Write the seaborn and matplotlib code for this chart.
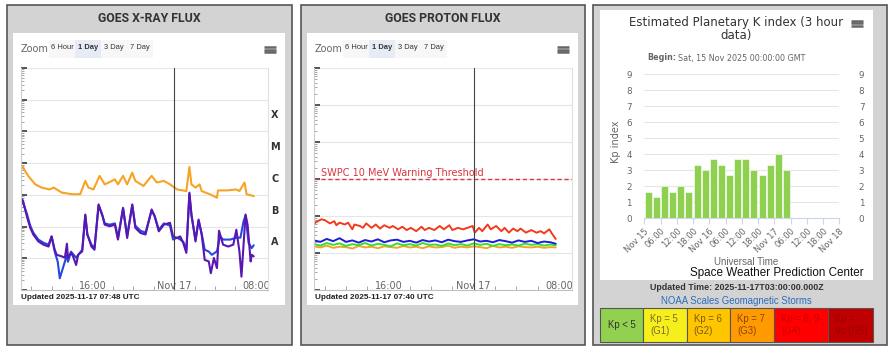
import numpy as np
import pandas as pd
import matplotlib
matplotlib.use("Agg")
import matplotlib.pyplot as plt
import seaborn as sns
from matplotlib.patches import Rectangle
from matplotlib.lines import Line2D
from matplotlib.ticker import LogLocator, MultipleLocator, NullFormatter

# ---- data -------------------------------------------------------------
# hours relative to 2025-11-17 00:00 UTC, log10 of flux
xray_long = [(-14.9, -5.09), (-14.3, -5.40), (-13.6, -5.67), (-13.0, -5.77), (-12.2, -5.83),
             (-11.8, -5.77), (-11.0, -5.93), (-10.0, -5.98), (-9.2, -5.98), (-8.7, -5.56),
             (-8.4, -5.77), (-7.9, -5.83), (-7.3, -5.40), (-6.8, -5.67), (-6.4, -5.61),
             (-5.8, -5.51), (-5.5, -5.67), (-5.0, -5.40), (-4.6, -5.67), (-4.1, -5.30),
             (-3.8, -5.56), (-3.0, -5.72), (-2.2, -5.40), (-1.7, -5.61), (-1.0, -5.56),
             (-0.4, -5.67), (0.3, -5.83), (1.2, -5.88), (1.5, -5.12), (1.7, -5.67),
             (2.1, -5.77), (2.5, -5.67), (2.7, -5.88), (3.5, -5.98), (4.2, -6.09),
             (4.3, -5.86), (5.2, -5.86), (6.1, -5.83), (6.4, -5.88), (6.9, -5.61),
             (7.1, -5.98), (7.8, -6.04)]

xray_short = [(-14.9, -6.14), (-14.8, -6.20), (-14.4, -6.71), (-14.1, -7.03), (-13.8, -7.25),
              (-13.3, -7.47), (-12.8, -7.57), (-12.3, -7.63), (-12.0, -7.31), (-11.7, -7.73),
              (-11.5, -7.89), (-11.0, -7.94), (-10.7, -7.98), (-10.5, -7.54), (-10.4, -7.98),
              (-10.1, -7.83), (-9.9, -7.94), (-9.6, -8.21), (-9.4, -7.89), (-9.0, -7.78),
              (-8.7, -6.62), (-8.5, -7.25), (-8.1, -7.63), (-7.8, -7.73), (-7.4, -6.30),
              (-7.0, -6.67), (-6.8, -6.94), (-6.3, -6.99), (-5.8, -6.94), (-5.5, -7.41),
              (-5.0, -6.41), (-4.6, -7.36), (-4.1, -6.30), (-3.8, -7.04), (-3.3, -7.20),
              (-2.8, -7.25), (-2.2, -6.46), (-1.9, -6.67), (-1.5, -7.15), (-1.0, -6.94),
              (-0.4, -6.88), (-0.1, -7.31), (0.3, -7.36), (0.6, -7.31), (0.9, -7.52),
              (1.2, -7.83), (1.5, -5.93), (1.7, -6.62), (2.1, -7.47), (2.4, -6.78),
              (2.7, -7.25), (3.0, -8.05), (3.4, -8.10), (3.6, -8.47), (3.9, -7.99),
              (4.2, -8.31), (4.4, -7.13), (4.8, -7.57), (5.3, -7.63), (5.8, -7.57),
              (6.1, -7.10), (6.4, -7.78), (6.6, -8.58), (7.0, -6.62), (7.2, -6.94),
              (7.5, -8.10), (7.6, -7.89), (7.8, -7.94)]

xray_blue = [(-14.9, -6.14), (-14.4, -6.62), (-14.1, -6.97), (-13.8, -7.19), (-13.3, -7.41),
             (-12.8, -7.51), (-12.3, -7.57), (-12.0, -7.31), (-11.7, -7.79), (-11.4, -8.11),
             (-11.2, -8.63), (-10.8, -8.21), (-10.5, -7.89), (-10.4, -8.11), (-10.1, -7.79),
             (-9.6, -7.98), (-9.0, -7.73), (-8.7, -6.65), (-8.5, -7.25), (-8.1, -7.57),
             (-7.8, -7.67), (-7.4, -6.33), (-7.0, -6.68), (-6.8, -6.90), (-6.3, -6.94),
             (-5.8, -6.90), (-5.5, -7.35), (-5.0, -6.43), (-4.6, -7.29), (-4.1, -6.33),
             (-3.8, -6.97), (-3.3, -7.13), (-2.8, -7.19), (-2.2, -6.49), (-1.9, -6.68),
             (-1.5, -7.10), (-1.0, -6.90), (-0.4, -6.97), (-0.1, -7.41), (0.3, -7.35),
             (0.6, -7.41), (0.9, -7.48), (1.2, -7.73), (1.5, -5.98), (1.7, -6.65),
             (2.1, -7.41), (2.4, -6.81), (2.7, -7.22), (3.0, -7.73), (3.4, -7.79),
             (3.7, -7.89), (4.2, -7.78), (4.5, -7.31), (4.8, -7.41), (5.5, -7.41),
             (6.1, -7.35), (6.5, -7.35), (6.8, -6.84), (7.0, -6.65), (7.3, -7.52),
             (7.6, -7.68), (7.8, -7.59)]

xray_classes = ["X", "M", "C", "B", "A"]
xray_class_flux = [3.2e-4, 3.2e-5, 3.2e-6, 3.2e-7, 3.2e-8]

proton_10mev = [(-15.0, -0.23), (-14.8, -0.16), (-14.3, -0.09), (-14.0, -0.11), (-13.5, -0.20),
                (-13.1, -0.14), (-12.9, -0.25), (-12.6, -0.18), (-12.1, -0.23), (-11.8, -0.18),
                (-11.4, -0.36), (-11.2, -0.23), (-10.7, -0.27), (-10.4, -0.32), (-10.1, -0.20),
                (-9.6, -0.32), (-9.2, -0.23), (-8.8, -0.34), (-8.4, -0.25), (-7.9, -0.32),
                (-7.6, -0.27), (-7.1, -0.36), (-6.7, -0.29), (-6.3, -0.38), (-5.9, -0.32),
                (-5.4, -0.41), (-4.9, -0.29), (-4.6, -0.38), (-4.2, -0.32), (-3.7, -0.38),
                (-3.2, -0.27), (-2.8, -0.36), (-2.3, -0.25), (-2.0, -0.38), (-1.5, -0.32),
                (-1.0, -0.36), (-0.6, -0.32), (-0.1, -0.27), (0.1, -0.45), (0.5, -0.32),
                (0.8, -0.41), (1.3, -0.23), (1.6, -0.36), (2.1, -0.27), (2.6, -0.41),
                (2.9, -0.32), (3.3, -0.45), (3.7, -0.34), (4.1, -0.41), (4.4, -0.34),
                (4.9, -0.45), (5.4, -0.38), (5.9, -0.45), (6.3, -0.41), (6.6, -0.47),
                (7.1, -0.36), (7.4, -0.50), (7.7, -0.62)]

proton_hours = [-15.0, -14.4, -13.8, -13.2, -12.6, -12.0, -11.4, -10.8, -10.2, -9.6,
                -9.0, -8.4, -7.8, -7.2, -6.6, -6.0, -5.4, -4.8, -4.2, -3.6,
                -3.0, -2.4, -1.8, -1.2, -0.6, 0.0, 0.6, 1.2, 1.8, 2.4,
                3.0, 3.6, 4.2, 4.8, 5.4, 6.0, 6.6, 7.2, 7.7]
proton_50mev = [-0.66, -0.70, -0.62, -0.68, -0.60, -0.70, -0.66, -0.72, -0.65, -0.69,
                -0.63, -0.71, -0.66, -0.64, -0.70, -0.67, -0.72, -0.65, -0.69, -0.66,
                -0.71, -0.64, -0.68, -0.70, -0.66, -0.63, -0.69, -0.67, -0.71, -0.65,
                -0.68, -0.72, -0.66, -0.70, -0.67, -0.73, -0.69, -0.71, -0.75]
proton_100mev = [-0.76, -0.80, -0.73, -0.78, -0.74, -0.81, -0.76, -0.79, -0.73, -0.80,
                 -0.75, -0.78, -0.82, -0.74, -0.79, -0.76, -0.80, -0.73, -0.78, -0.77,
                 -0.81, -0.74, -0.79, -0.76, -0.80, -0.74, -0.78, -0.75, -0.81, -0.76,
                 -0.79, -0.77, -0.80, -0.75, -0.78, -0.76, -0.80, -0.77, -0.79]
proton_500mev = [-0.82, -0.85, -0.80, -0.86, -0.83, -0.84, -0.88, -0.81, -0.85, -0.83,
                 -0.87, -0.82, -0.84, -0.86, -0.81, -0.85, -0.83, -0.87, -0.82, -0.85,
                 -0.84, -0.80, -0.86, -0.83, -0.85, -0.82, -0.84, -0.87, -0.81, -0.85,
                 -0.83, -0.86, -0.82, -0.84, -0.85, -0.83, -0.86, -0.84, -0.85]
proton_threshold = 10

time_ticks = [-8, 0, 8]
time_labels = ["16:00", "Nov 17", "08:00"]

# Kp: hours since Nov 15 00:00 (bar centres), Kp values
kp_hours = [1.5, 4.5, 7.5, 10.5, 13.5, 16.5, 19.5, 22.5, 25.5, 28.5,
            31.5, 34.5, 37.5, 40.5, 43.5, 46.5, 49.5, 52.5]
kp_values = [1.67, 1.33, 2.0, 1.67, 2.0, 1.67, 3.33, 3.0, 3.67, 3.33,
             2.67, 3.67, 3.67, 3.0, 2.67, 3.33, 4.0, 3.0]
kp_tick_labels = ["Nov 15", "06:00", "12:00", "18:00", "Nov 16", "06:00", "12:00",
                  "18:00", "Nov 17", "06:00", "12:00", "18:00", "Nov 18"]

scale_labels = ["Kp < 5", "Kp = 5\n(G1)", "Kp = 6\n(G2)", "Kp = 7\n(G3)",
                "Kp = 8, 9-\n(G4)", "Kp =\n9o (G5)"]
scale_colors = ["#92d050", "#f7ef1c", "#ffc600", "#ff9a00", "#ff0000", "#c00000"]
scale_text = ["#333333", "#7d6d25", "#7a5a12", "#8a4506", "#cc0000", "#990000"]

# ---- figure helpers -----------------------------------------------------
sns.set_style("white")
plt.rcParams['font.family'] = ['DejaVu Sans']

W, H = 890, 353
fig = plt.figure(figsize=(W / 100, H / 100), dpi=100)
fig.patch.set_facecolor('white')


def fx(x):
    return x / W


def fy(y):
    return 1 - y / H


def box(x0, y0, x1, y1, fc, ec='none', lw=0):
    fig.add_artist(Rectangle((fx(x0), fy(y1)), (x1 - x0) / W, (y1 - y0) / H,
                             transform=fig.transFigure, facecolor=fc,
                             edgecolor=ec, linewidth=lw, zorder=-1))


def txt(x, y, s, **kw):
    kw.setdefault('va', 'center')
    fig.text(fx(x), fy(y), s, **kw)


def burger(x0, x1, ys):
    for y in ys:
        fig.add_artist(Line2D([fx(x0), fx(x1)], [fy(y), fy(y)], transform=fig.transFigure,
                              color='#666666', lw=1.8, solid_capstyle='butt'))


def px_axes(x0, y0, x1, y1):
    return fig.add_axes([fx(x0), fy(y1), (x1 - x0) / W, (y1 - y0) / H])


NARROW = ['Liberation Sans Narrow', 'Roboto', 'DejaVu Sans']
ARIAL = ['Liberation Sans', 'DejaVu Sans']


def goes_panel(x0, x1, title, updated):
    box(x0, 5, x1, 345, '#d3d3d3', '#555555', 1.2)
    box(x0 + 6, 33, x1 - 7, 305, 'white')
    txt((x0 + x1) / 2, 18.5, title, ha='center', family=NARROW, weight='bold',
        size=8.8, color='#333333')
    txt(x0 + 14, 48.5, 'Zoom', size=7, color='#666666')
    for i, lab in enumerate(["6 Hour", "1 Day", "3 Day", "7 Day"]):
        bx = x0 + 42 + 26 * i
        box(bx, 40, bx + 26, 58, '#e6ebf5' if i == 1 else '#f7f7f7')
        txt(bx + 13, 47.5, lab, ha='center', size=5.4, family=ARIAL, color='#333333',
            weight='bold' if i == 1 else 'normal')
    burger(x1 - 28, x1 - 16, [46.7, 49.5, 52.3])
    txt(x0 + 14, 297.5, updated, size=5.9, family=ARIAL, weight='bold', color='#222222')


def style_goes(ax, ylo, yhi):
    ax.set_yscale('log')
    ax.set_ylim(ylo, yhi)
    ax.set_xlim(-15, 9.2)
    ax.yaxis.set_major_locator(LogLocator(base=10, numticks=20))
    ax.yaxis.set_minor_locator(LogLocator(base=10, subs=np.arange(2, 10), numticks=20))
    ax.yaxis.set_minor_formatter(NullFormatter())
    ax.tick_params(axis='y', which='major', direction='in', length=4, width=1.4,
                   color='#555555', labelleft=False, left=True)
    ax.tick_params(axis='y', which='minor', direction='in', length=2.5, width=0.6,
                   color='#999999', left=True)
    ax.grid(axis='y', which='major', color='#e6e6e6', lw=0.8)
    ax.grid(axis='x', visible=False)
    ax.set_xticks(time_ticks)
    ax.set_xticklabels(time_labels)
    ax.xaxis.set_minor_locator(MultipleLocator(2))
    ax.tick_params(axis='x', which='major', direction='in', length=0, pad=-6.5,
                   labelsize=7, labelcolor='#666666')
    ax.tick_params(axis='x', which='minor', direction='in', length=3, width=0.6,
                   color='#999999', bottom=True)
    ax.spines['top'].set_visible(False)
    ax.spines['left'].set_color('#cccccc')
    ax.spines['right'].set_color('#e0e0e0')
    ax.spines['bottom'].set_color('#c0c0c0')
    for s in ax.spines.values():
        s.set_linewidth(0.8)
    ax.axvline(0, color='#444444', lw=0.8)
    ax.set_xlabel('')
    ax.set_ylabel('')


# ---- GOES X-ray flux --------------------------------------------------------
goes_panel(7, 292, "GOES X-RAY FLUX", "Updated 2025-11-17 07:48 UTC")
ax1 = px_axes(21, 68, 268, 290)
for series, col in [(xray_long, '#f7a326'), (xray_blue, '#2448e0'), (xray_short, '#5a16b0')]:
    df = pd.DataFrame(series, columns=['hour', 'logflux'])
    df['flux'] = 10 ** df['logflux']
    sns.lineplot(data=df, x='hour', y='flux', ax=ax1, color=col, lw=1.5, sort=False)
style_goes(ax1, 1e-9, 1e-2)
for lab, val in zip(xray_classes, xray_class_flux):
    ax1.text(1.028, val, lab, transform=ax1.get_yaxis_transform(), ha='center',
             va='center', fontsize=7, weight='bold', color='#333333')

# ---- GOES proton flux -------------------------------------------------------
goes_panel(301, 585, "GOES PROTON FLUX", "Updated 2025-11-17 07:40 UTC")
ax2 = px_axes(314, 68, 571.7, 290)
pdf = pd.DataFrame({'hour': proton_hours, 'p50': proton_50mev,
                    'p100': proton_100mev, 'p500': proton_500mev})
for col_name, col in [('p500', '#f0a430'), ('p100', '#3ade2e'), ('p50', '#1c1cd8')]:
    sns.lineplot(x=pdf['hour'], y=10 ** pdf[col_name], ax=ax2, color=col, lw=1.4, sort=False)
rdf = pd.DataFrame(proton_10mev, columns=['hour', 'logflux'])
sns.lineplot(x=rdf['hour'], y=10 ** rdf['logflux'], ax=ax2, color='#f23a1e', lw=1.4, sort=False)
ax2.axhline(proton_threshold, color='#d9363e', lw=1, ls=(0, (3, 2)))
ax2.text(-14.3, proton_threshold * 1.18, "SWPC 10 MeV Warning Threshold", fontsize=7,
         color='#d9363e', va='baseline', ha='left')
style_goes(ax2, 1e-2, 1e4)

# ---- Planetary K index ------------------------------------------------------
box(593, 5, 887, 345, '#d3d3d3', '#555555', 1.2)
box(600, 10, 873, 280, 'white')
txt(736, 22.5, "Estimated Planetary K index (3 hour", ha='center', size=8.5, color='#333333')
txt(736, 36, "data)", ha='center', size=8.5, color='#333333')
burger(851, 863, [20.7, 23.4, 26.1])
txt(676, 58, "Begin:", ha='right', size=5.8, weight='bold', color='#666666')
txt(678, 58, "Sat, 15 Nov 2025 00:00:00 GMT", ha='left', size=5.8, color='#666666')

ax3 = px_axes(644.3, 74, 839.3, 218.3)
ax3.set_axisbelow(True)
sns.barplot(x=kp_hours, y=kp_values, native_scale=True, orient='x', color='#90d050',
            saturation=1, width=0.86, edgecolor='white', linewidth=0.4,
            errorbar=None, ax=ax3)
ax3.set_xlim(0, 72)
ax3.set_ylim(0, 9)
ax3.set_yticks(range(10))
ax3.tick_params(axis='y', length=0, labelsize=6.3, labelcolor='#666666', pad=9)
ax3.set_xticks(range(0, 73, 6))
ax3.set_xticklabels(kp_tick_labels, rotation=45, ha='right', rotation_mode='anchor',
                    fontsize=6, color='#666666')
ax3.tick_params(axis='x', length=4, color='#ccd6eb', direction='out', pad=2, bottom=True)
ax3.xaxis.set_minor_locator(MultipleLocator(24))
ax3.grid(axis='y', which='major', color='#e6e6e6', lw=0.8)
ax3.grid(axis='x', which='major', visible=False)
ax3.grid(axis='x', which='minor', color='#e6e6e6', lw=0.8)
ax3.tick_params(axis='x', which='minor', length=0)
for s in ['top', 'left', 'right']:
    ax3.spines[s].set_visible(False)
ax3.spines['bottom'].set_color('#ccd6eb')
ax3.set_xlabel('')
ax3.set_ylabel('')

ax3r = ax3.twinx()
ax3r.set_ylim(0, 9)
ax3r.set_yticks(range(10))
ax3r.tick_params(axis='y', length=0, labelsize=6.3, labelcolor='#666666', pad=14)
ax3r.grid(False)
for s in ax3r.spines.values():
    s.set_visible(False)

txt(616, 142, "Kp index", rotation=90, ha='center', size=7, color='#666666')
txt(746, 262, "Universal Time", ha='center', size=7, family=ARIAL, color='#666666')
txt(864, 273, "Space Weather Prediction Center", ha='right', size=8.4, family=ARIAL,
    color='#111111')
txt(736.5, 287.5, "Updated Time: 2025-11-17T03:00:00.000Z", ha='center', size=6.4,
    family=ARIAL, weight='bold', color='#333333')
txt(736, 301, "NOAA Scales Geomagnetic Storms", ha='center', size=6.9, family=ARIAL,
    color='#2a6ebb')

cell_edges = [600, 643.3, 686.7, 730, 774.3, 828.3, 872.7]
for i, (lab, fc, tc) in enumerate(zip(scale_labels, scale_colors, scale_text)):
    x0, x1 = cell_edges[i], cell_edges[i + 1]
    box(x0, 308.3, x1, 341.7, fc, '#555555', 0.8)
    if i == 0:
        txt((x0 + x1) / 2, 325, lab, ha='center', size=6.9, family=ARIAL, color=tc)
    else:
        top, bottom = lab.split("\n")
        txt(x0 + 7, 318.5, top, ha='left', size=6.9, family=ARIAL, color=tc)
        txt(x0 + 7, 330.5, bottom, ha='left', size=6.9, family=ARIAL, color=tc)

fig.savefig("out.png", dpi=100)
